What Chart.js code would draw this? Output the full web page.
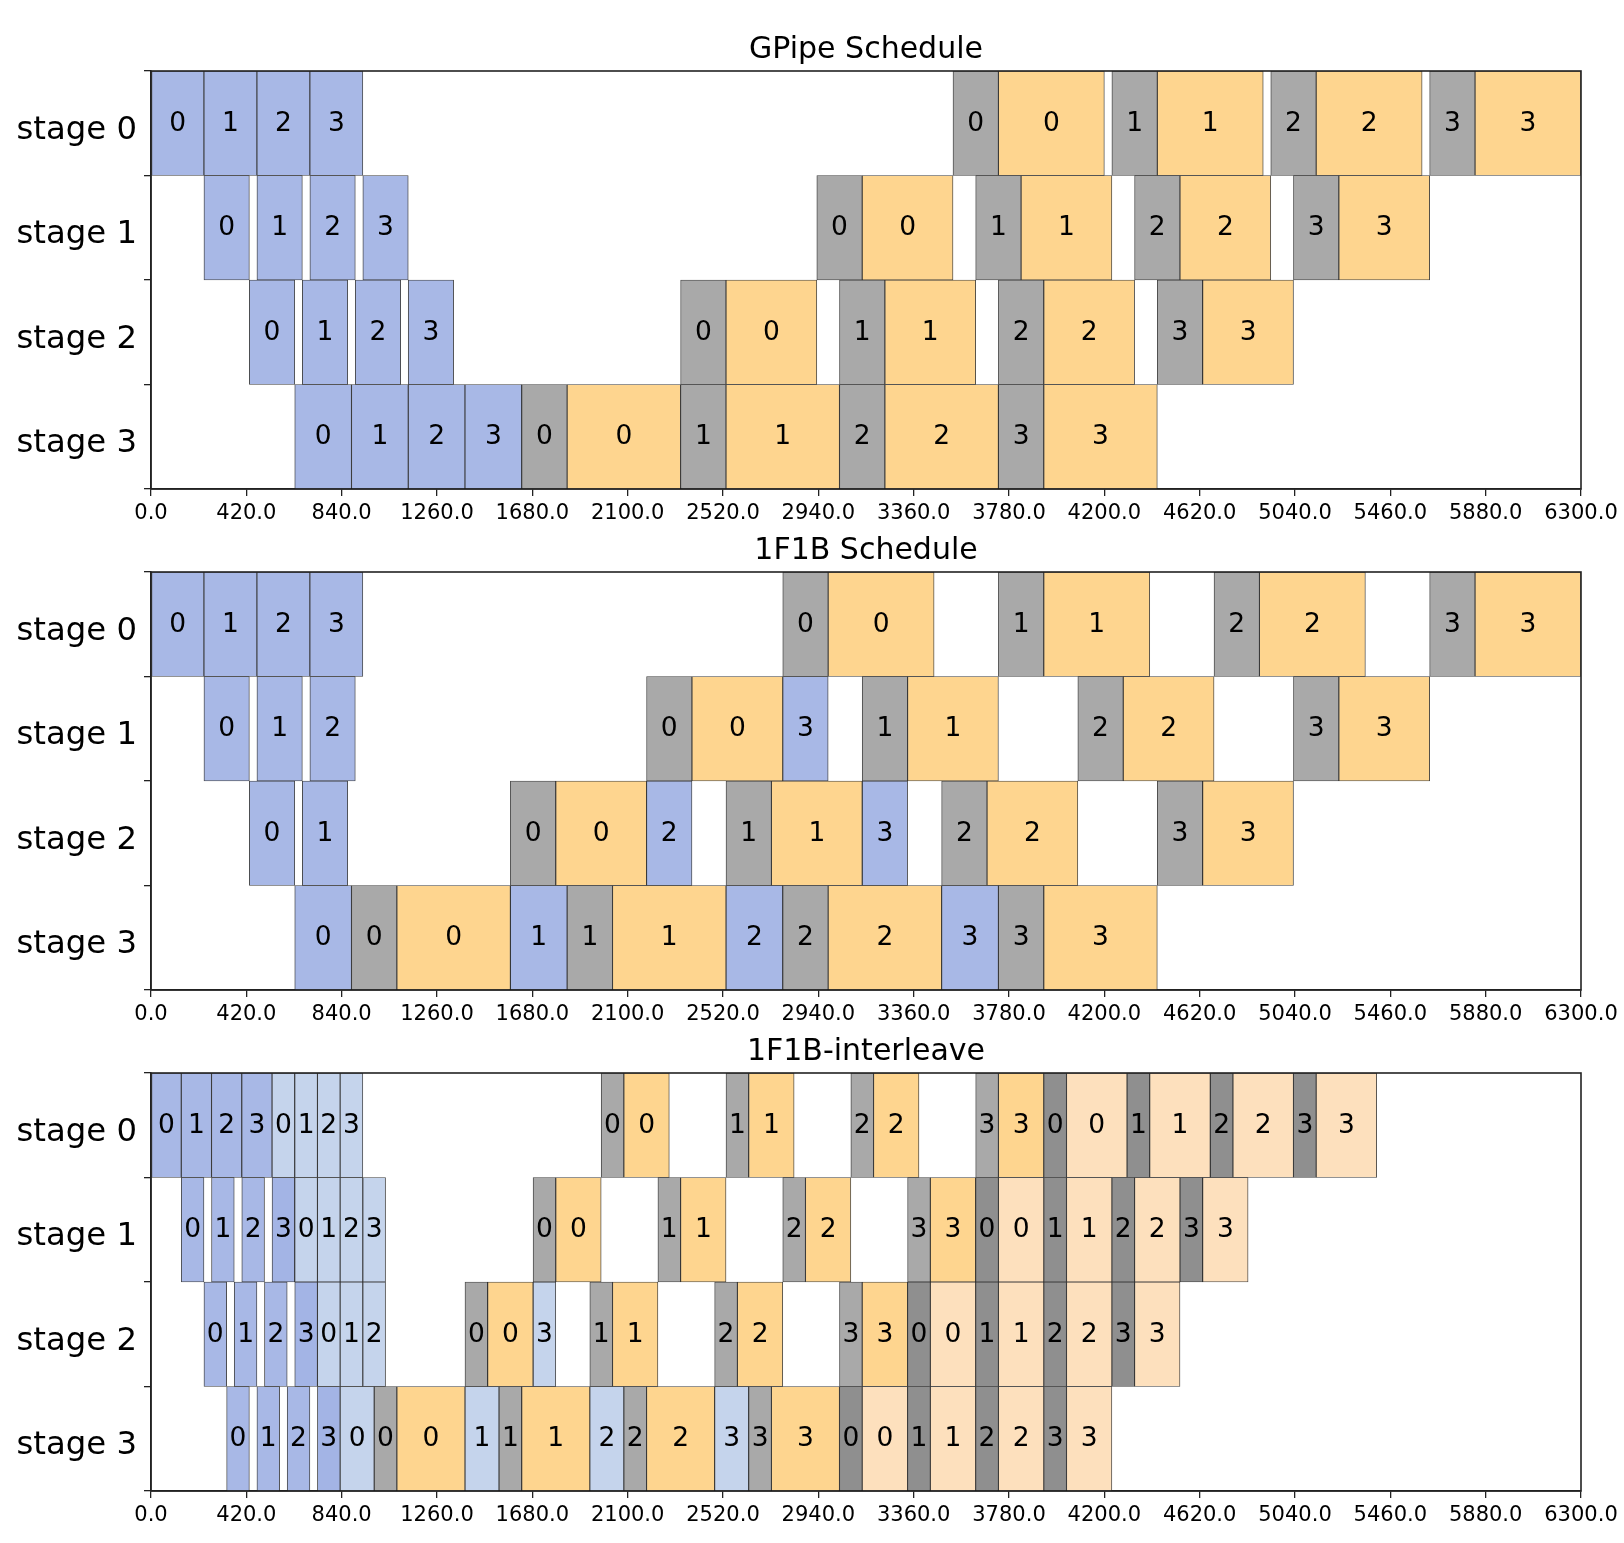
<!DOCTYPE html>
<html><head><meta charset="utf-8">
<script src="https://cdn.jsdelivr.net/npm/chart.js@4.4.1/dist/chart.umd.min.js"></script>
<style>
html,body{margin:0;padding:0;background:#fff;}
body{width:1624px;height:1543px;position:relative;overflow:hidden;}
canvas{position:absolute;left:0;}
</style></head><body>
<canvas id="c0" width="1624" height="540" style="top:0px"></canvas>
<canvas id="c1" width="1624" height="540" style="top:501px"></canvas>
<canvas id="c2" width="1624" height="540" style="top:1002px"></canvas>
<script>
// ---------- categories / ticks ----------
const stages = ['stage 0', 'stage 1', 'stage 2', 'stage 3'];
const xTickValues = [0, 420, 840, 1260, 1680, 2100, 2520, 2940, 3360, 3780, 4200, 4620, 5040, 5460, 5880, 6300];
const titles = ['GPipe Schedule', '1F1B Schedule', '1F1B-interleave'];

// each entry: [stage, micro-batch, start, end]
// ---------- GPipe ----------
const gpipeFwd = [
  [0,0,0,233.3],[0,1,233.3,466.7],[0,2,466.7,700],[0,3,700,933.3],
  [1,0,233.3,433.3],[1,1,466.7,666.7],[1,2,700,900],[1,3,933.3,1133.3],
  [2,0,433.3,633.3],[2,1,666.7,866.7],[2,2,900,1100],[2,3,1133.3,1333.3],
  [3,0,633.3,883.3],[3,1,883.3,1133.3],[3,2,1133.3,1383.3],[3,3,1383.3,1633.3]];
const gpipeBwd = [
  [3,0,1633.3,1833.3],[3,1,2333.3,2533.3],[3,2,3033.3,3233.3],[3,3,3733.3,3933.3],
  [2,0,2333.3,2533.3],[2,1,3033.3,3233.3],[2,2,3733.3,3933.3],[2,3,4433.3,4633.3],
  [1,0,2933.3,3133.3],[1,1,3633.3,3833.3],[1,2,4333.3,4533.3],[1,3,5033.3,5233.3],
  [0,0,3533.3,3733.3],[0,1,4233.3,4433.3],[0,2,4933.3,5133.3],[0,3,5633.3,5833.3]];
const gpipeWgt = [
  [3,0,1833.3,2333.3],[3,1,2533.3,3033.3],[3,2,3233.3,3733.3],[3,3,3933.3,4433.3],
  [2,0,2533.3,2933.3],[2,1,3233.3,3633.3],[2,2,3933.3,4333.3],[2,3,4633.3,5033.3],
  [1,0,3133.3,3533.3],[1,1,3833.3,4233.3],[1,2,4533.3,4933.3],[1,3,5233.3,5633.3],
  [0,0,3733.3,4200],[0,1,4433.3,4900],[0,2,5133.3,5600],[0,3,5833.3,6300]];

// ---------- 1F1B ----------
const f1b1Fwd = [
  [0,0,0,233.3],[0,1,233.3,466.7],[0,2,466.7,700],[0,3,700,933.3],
  [1,0,233.3,433.3],[1,1,466.7,666.7],[1,2,700,900],[1,3,2783.3,2983.3],
  [2,0,433.3,633.3],[2,1,666.7,866.7],[2,2,2183.3,2383.3],[2,3,3133.3,3333.3],
  [3,0,633.3,883.3],[3,1,1583.3,1833.3],[3,2,2533.3,2783.3],[3,3,3483.3,3733.3]];
const f1b1Bwd = [
  [3,0,883.3,1083.3],[3,1,1833.3,2033.3],[3,2,2783.3,2983.3],[3,3,3733.3,3933.3],
  [2,0,1583.3,1783.3],[2,1,2533.3,2733.3],[2,2,3483.3,3683.3],[2,3,4433.3,4633.3],
  [1,0,2183.3,2383.3],[1,1,3133.3,3333.3],[1,2,4083.3,4283.3],[1,3,5033.3,5233.3],
  [0,0,2783.3,2983.3],[0,1,3733.3,3933.3],[0,2,4683.3,4883.3],[0,3,5633.3,5833.3]];
const f1b1Wgt = [
  [3,0,1083.3,1583.3],[3,1,2033.3,2533.3],[3,2,2983.3,3483.3],[3,3,3933.3,4433.3],
  [2,0,1783.3,2183.3],[2,1,2733.3,3133.3],[2,2,3683.3,4083.3],[2,3,4633.3,5033.3],
  [1,0,2383.3,2783.3],[1,1,3333.3,3733.3],[1,2,4283.3,4683.3],[1,3,5233.3,5633.3],
  [0,0,2983.3,3450],[0,1,3933.3,4400],[0,2,4883.3,5350],[0,3,5833.3,6300]];

// ---------- 1F1B-interleave ----------
const ilvFwdA = [
  [0,0,0,133.3],[0,1,133.3,266.7],[0,2,266.7,400],[0,3,400,533.3],
  [1,0,133.3,233.3],[1,1,266.7,366.7],[1,2,400,500],
  [2,0,233.3,333.3],[2,1,366.7,466.7],[2,2,500,600],
  [3,0,333.3,433.3],[3,1,466.7,566.7],[3,2,600,700]];
const ilvFwdADark = [[1,3,533.3,633.3],[2,3,633.3,733.3],[3,3,733.3,833.3]];
const ilvFwdB = [
  [0,0,533.3,633.3],[0,1,633.3,733.3],[0,2,733.3,833.3],[0,3,833.3,933.3],
  [1,0,633.3,733.3],[1,1,733.3,833.3],[1,2,833.3,933.3],[1,3,933.3,1033.3],
  [2,0,733.3,833.3],[2,1,833.3,933.3],[2,2,933.3,1033.3],[2,3,1683.3,1783.3],
  [3,0,833.3,983.3],[3,1,1383.3,1533.3],[3,2,1933.3,2083.3],[3,3,2483.3,2633.3]];
const ilvBwdB = [
  [3,0,983.3,1083.3],[3,1,1533.3,1633.3],[3,2,2083.3,2183.3],[3,3,2633.3,2733.3],
  [2,0,1383.3,1483.3],[2,1,1933.3,2033.3],[2,2,2483.3,2583.3],[2,3,3033.3,3133.3],
  [1,0,1683.3,1783.3],[1,1,2233.3,2333.3],[1,2,2783.3,2883.3],[1,3,3333.3,3433.3],
  [0,0,1983.3,2083.3],[0,1,2533.3,2633.3],[0,2,3083.3,3183.3],[0,3,3633.3,3733.3]];
const ilvWgtB = [
  [3,0,1083.3,1383.3],[3,1,1633.3,1933.3],[3,2,2183.3,2483.3],[3,3,2733.3,3033.3],
  [2,0,1483.3,1683.3],[2,1,2033.3,2233.3],[2,2,2583.3,2783.3],[2,3,3133.3,3333.3],
  [1,0,1783.3,1983.3],[1,1,2333.3,2533.3],[1,2,2883.3,3083.3],[1,3,3433.3,3633.3],
  [0,0,2083.3,2283.3],[0,1,2633.3,2833.3],[0,2,3183.3,3383.3],[0,3,3733.3,3933.3]];
const ilvBwdA = [
  [3,0,3033.3,3133.3],[3,1,3333.3,3433.3],[3,2,3633.3,3733.3],[3,3,3933.3,4033.3],
  [2,0,3333.3,3433.3],[2,1,3633.3,3733.3],[2,2,3933.3,4033.3],[2,3,4233.3,4333.3],
  [1,0,3633.3,3733.3],[1,1,3933.3,4033.3],[1,2,4233.3,4333.3],[1,3,4533.3,4633.3],
  [0,0,3933.3,4033.3],[0,1,4300,4400],[0,2,4666.7,4766.7],[0,3,5033.3,5133.3]];
const ilvWgtA = [
  [3,0,3133.3,3333.3],[3,1,3433.3,3633.3],[3,2,3733.3,3933.3],[3,3,4033.3,4233.3],
  [2,0,3433.3,3633.3],[2,1,3733.3,3933.3],[2,2,4033.3,4233.3],[2,3,4333.3,4533.3],
  [1,0,3733.3,3933.3],[1,1,4033.3,4233.3],[1,2,4333.3,4533.3],[1,3,4633.3,4833.3],
  [0,0,4033.3,4300],[0,1,4400,4666.7],[0,2,4766.7,5033.3],[0,3,5133.3,5400]];

const colors = {
  fwd: '#A8B8E6', fwdDark: '#A3B4E5', fwdB: '#C5D4EC',
  bwd: '#A9A9A9', bwdA: '#8F8F8F',
  wgt: '#FED58F', wgtA: '#FDE0BD'
};

Chart.defaults.font.family = "'DejaVu Sans', sans-serif";

const barLabels = {
  id: 'barLabels',
  afterDatasetsDraw(chart) {
    const ctx = chart.ctx;
    ctx.save();
    ctx.font = "26.5px 'DejaVu Sans'";
    ctx.fillStyle = '#000';
    ctx.textAlign = 'center';
    ctx.textBaseline = 'middle';
    chart.data.datasets.forEach((ds, di) => {
      chart.getDatasetMeta(di).data.forEach((el, i) => {
        const raw = ds.data[i];
        ctx.fillText(String(raw.mb), (el.x + el.base) / 2, el.y + 0.5);
      });
    });
    ctx.restore();
  }
};
const frame = {
  id: 'frame',
  afterDraw(chart) {
    const a = chart.chartArea, ctx = chart.ctx;
    ctx.save();
    ctx.strokeStyle = '#222';
    ctx.lineWidth = 1.6;
    ctx.strokeRect(a.left, a.top, a.right - a.left, a.bottom - a.top);
    ctx.restore();
  }
};

function buildPanel(id, title, groups) {
  const data = [];
  groups.forEach(([arr, key]) => arr.forEach(([s, mb, a, b]) => data.push({x: [a, b], y: stages[s], mb, key})));
  new Chart(document.getElementById(id), {
    type: 'bar',
    data: {
      labels: stages,
      datasets: [{
        data,
        backgroundColor: ctx => colors[ctx.raw.key],
        borderColor: 'rgba(0,0,0,0.75)',
        borderWidth: 0.9,
        borderSkipped: false,
        barPercentage: 1,
        categoryPercentage: 1
      }]
    },
    options: {
      indexAxis: 'y',
      responsive: false,
      animation: false,
      events: [],
      layout: {padding: {left: 0, right: 43, top: 0, bottom: 0}},
      plugins: {
        legend: {display: false},
        tooltip: {enabled: false},
        title: {display: true, text: title, color: '#000', fullSize: false,
          font: {size: 30, weight: 'normal', lineHeight: 1.2},
          padding: {top: 32.5, bottom: 2.5}}
      },
      scales: {
        x: {
          type: 'linear', min: 0, max: 6300,
          afterBuildTicks: s => { s.ticks = xTickValues.map(v => ({value: v})); },
          ticks: {callback: v => Number(v).toFixed(1), color: '#000', font: {size: 21},
            padding: 5, maxRotation: 0, minRotation: 0, autoSkip: false},
          grid: {drawOnChartArea: false, tickLength: 7, color: '#222', lineWidth: 1.3},
          border: {color: '#222', width: 1.5},
          afterFit: s => { s.height = 51; }
        },
        y: {
          type: 'category', offset: true,
          ticks: {color: '#000', font: {size: 32.3}, padding: 7, labelOffset: 7},
          grid: {offset: true, drawOnChartArea: false, tickLength: 7, color: '#222', lineWidth: 1.3},
          border: {color: '#222', width: 1.5},
          afterFit: s => { s.width = 151; }
        }
      }
    },
    plugins: [barLabels, frame]
  });
}

buildPanel('c0', titles[0], [[gpipeFwd, 'fwd'], [gpipeBwd, 'bwd'], [gpipeWgt, 'wgt']]);
buildPanel('c1', titles[1], [[f1b1Fwd, 'fwd'], [f1b1Bwd, 'bwd'], [f1b1Wgt, 'wgt']]);
buildPanel('c2', titles[2], [[ilvFwdA, 'fwd'], [ilvFwdADark, 'fwdDark'], [ilvFwdB, 'fwdB'],
  [ilvBwdB, 'bwd'], [ilvWgtB, 'wgt'], [ilvBwdA, 'bwdA'], [ilvWgtA, 'wgtA']]);
</script>
</body></html>
